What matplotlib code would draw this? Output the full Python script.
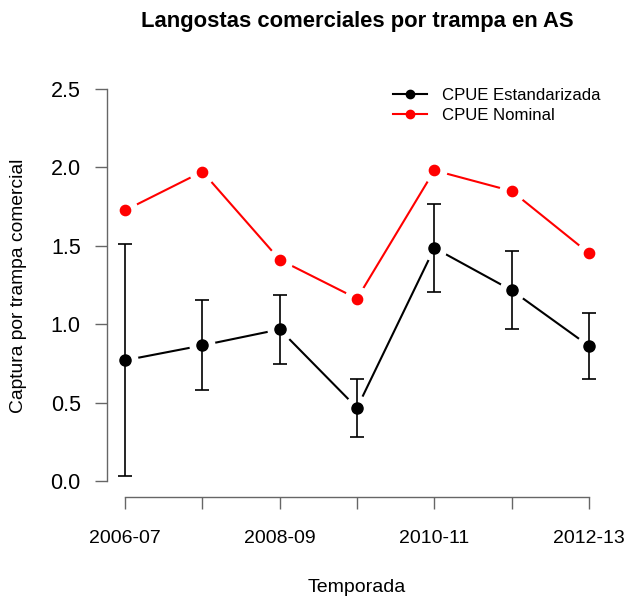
import matplotlib
matplotlib.use("Agg")
import matplotlib.pyplot as plt
from matplotlib.lines import Line2D
import numpy as np

plt.rcParams['font.family'] = ['Liberation Sans', 'DejaVu Sans']

seasons = ["2006-07", "2007-08", "2008-09", "2009-10", "2010-11", "2011-12", "2012-13"]
shown_labels = ["2006-07", "", "2008-09", "", "2010-11", "", "2012-13"]
cpue_std = [0.77, 0.865, 0.967, 0.466, 1.486, 1.216, 0.861]
cpue_std_upper = [1.513, 1.154, 1.188, 0.648, 1.769, 1.465, 1.074]
cpue_std_lower = [0.03, 0.58, 0.744, 0.283, 1.207, 0.967, 0.648]
cpue_nom = [1.726, 1.973, 1.411, 1.163, 1.981, 1.849, 1.452]
yticks = [0.0, 0.5, 1.0, 1.5, 2.0, 2.5]

W, H = 629, 601
fig = plt.figure(figsize=(W / 100, H / 100), dpi=100)
ax = fig.add_axes([106.5 / W, 1 - 496.7 / H, (607.6 - 106.5) / W, (496.7 - 73.3) / H])

x = np.arange(1, len(seasons) + 1)
std = np.array(cpue_std)
up = np.array(cpue_std_upper)
lo = np.array(cpue_std_lower)

# lines
ax.plot(x, cpue_nom, color='red', lw=1.5, zorder=1)
ax.plot(x, std, color='black', lw=1.5, zorder=1)
# white halos to create R type="b" gaps
ax.plot(x, cpue_nom, ls='none', marker='o', ms=13, mfc='white', mec='white', mew=5.8, zorder=2)
ax.plot(x, std, ls='none', marker='o', ms=13, mfc='white', mec='white', mew=5.8, zorder=2)
# error bars
ax.errorbar(x, std, yerr=[std - lo, up - std], fmt='none', ecolor='black', elinewidth=1.2,
            capsize=4.7, capthick=1.2, zorder=3)
# points
ax.plot(x, cpue_nom, ls='none', marker='o', ms=7.4, color='red', zorder=4)
ax.plot(x, std, ls='none', marker='o', ms=8.0, color='black', zorder=4)

ax.set_xlim(0.76, 7.24)
ax.set_ylim(-0.1, 2.6)

for s in ['top', 'right']:
    ax.spines[s].set_visible(False)
ax.spines['left'].set_bounds(0, 2.5)
ax.spines['bottom'].set_bounds(1, 7)
for s in ['left', 'bottom']:
    ax.spines[s].set_color('#666666')
    ax.spines[s].set_linewidth(1)

ax.set_yticks(yticks)
ax.set_yticklabels([f"{v:.1f}" for v in yticks])
ax.set_xticks(x)
ax.set_xticklabels(shown_labels)
ax.tick_params(axis='y', direction='out', length=9, width=1, color='#666666', pad=9.5,
               labelsize=15.5)
ax.tick_params(axis='x', direction='out', length=8.7, width=1, color='#666666', pad=15.5,
               labelsize=14)

fig.text(357 / W, 1 - 22 / H, "Langostas comerciales por trampa en AS", ha='center', va='center',
         fontsize=15.8, fontweight='bold')
fig.text(357 / W, 1 - 587 / H, "Temporada", ha='center', va='center', fontsize=14)
fig.text(19 / W, 1 - 286 / H, "Captura por trampa comercial", ha='center', va='center',
         rotation=90, fontsize=13.9)

handles = [Line2D([0], [0], color='black', lw=1.5, marker='o', ms=6),
           Line2D([0], [0], color='red', lw=1.5, marker='o', ms=6)]
fig.legend(handles, ["CPUE Estandarizada", "CPUE Nominal"], loc='upper left',
           bbox_to_anchor=(393 / W, 1 - 87.5 / H), frameon=False, fontsize=12.1,
           handlelength=2.0, handletextpad=0.9, labelspacing=0.32, borderpad=0, borderaxespad=0)

fig.savefig("out.png", dpi=100)
